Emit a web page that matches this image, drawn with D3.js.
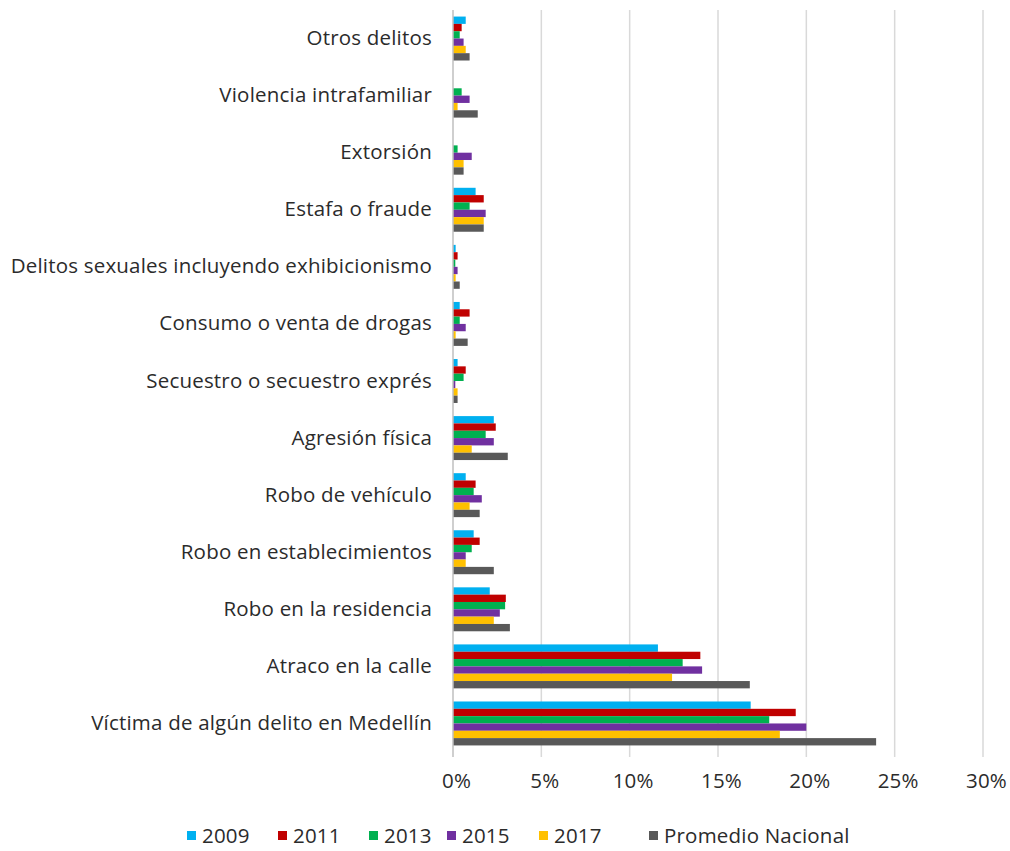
<!DOCTYPE html>
<html>
<head>
<meta charset="utf-8">
<script src="https://cdn.jsdelivr.net/npm/d3@7"></script>
<style>
  body { margin: 0; background: #fff; }
  text { font-family: "Open Sans", sans-serif; fill: #2b2b2b; letter-spacing: 0.2px; }
</style>
</head>
<body>
<svg id="canvas"></svg>
<script>
// categories, top to bottom as drawn
let categories = [
  "Otros delitos",
  "Violencia intrafamiliar",
  "Extorsión",
  "Estafa o fraude",
  "Delitos sexuales incluyendo exhibicionismo",
  "Consumo o venta de drogas",
  "Secuestro o secuestro exprés",
  "Agresión física",
  "Robo de vehículo",
  "Robo en establecimientos",
  "Robo en la residencia",
  "Atraco en la calle",
  "Víctima de algún delito en Medellín"
]

let seriesNames = ["2009", "2011", "2013", "2015", "2017", "Promedio Nacional"]
let seriesColors = ["#00b0f0", "#c00000", "#00b050", "#7030a0", "#ffc000", "#595959"]

// percent values, same order as categories
let v2009 = [0.72, 0, 0, 1.28, 0.15, 0.38, 0.26, 2.31, 0.72, 1.17, 2.08, 11.6, 16.85]
let v2011 = [0.49, 0, 0, 1.74, 0.26, 0.94, 0.72, 2.42, 1.28, 1.51, 2.99, 14.0, 19.4]
let v2013 = [0.38, 0.49, 0.26, 0.94, 0.13, 0.38, 0.6, 1.85, 1.17, 1.06, 2.95, 13.0, 17.9]
let v2015 = [0.6, 0.94, 1.06, 1.85, 0.26, 0.72, 0.13, 2.31, 1.63, 0.72, 2.65, 14.1, 20.0]
let v2017 = [0.72, 0.26, 0.6, 1.74, 0.15, 0.15, 0.26, 1.06, 0.94, 0.72, 2.31, 12.4, 18.5]
let vNacional = [0.94, 1.4, 0.6, 1.74, 0.38, 0.83, 0.26, 3.1, 1.51, 2.31, 3.22, 16.8, 23.95]

let seriesValues = [v2009, v2011, v2013, v2015, v2017, vNacional]
let xTicks = [0, 5, 10, 15, 20, 25, 30]

let width = 1010
let height = 851
let plotLeft = 453, plotRight = 983, plotTop = 10, plotBottom = 752
let fontSize = 20.5

let svg = d3.select('#canvas').attr('width', width).attr('height', height)

let xScale = d3.scaleLinear().domain([0, 30]).range([plotLeft, plotRight])
let yScale = d3.scaleBand().domain(categories).range([plotTop, plotBottom])
                .paddingInner(0.23).paddingOuter(0.115)
let inner = d3.scaleBand().domain(seriesNames).range([0, yScale.bandwidth()])

// gridlines
svg.append('g').selectAll('line')
  .data(xTicks.slice(1))
  .join('line')
  .attr('x1', d => xScale(d)).attr('x2', d => xScale(d))
  .attr('y1', plotTop).attr('y2', plotBottom + 5)
  .attr('stroke', '#d9d9d9').attr('stroke-width', 1.5)

// bars
let rows = []
categories.forEach((c, i) => {
  seriesNames.forEach((s, j) => {
    rows.push({cat: c, series: s, value: seriesValues[j][i], color: seriesColors[j]})
  })
})

svg.append('g').selectAll('rect')
  .data(rows.filter(d => d.value > 0))
  .join('rect')
  .attr('x', xScale(0))
  .attr('y', d => yScale(d.cat) + inner(d.series))
  .attr('width', d => xScale(d.value) - xScale(0))
  .attr('height', inner.bandwidth())
  .attr('fill', d => d.color)

// value axis line at 0
svg.append('line')
  .attr('x1', xScale(0)).attr('x2', xScale(0))
  .attr('y1', plotTop).attr('y2', plotBottom + 5)
  .attr('stroke', '#bfbfbf').attr('stroke-width', 1.5)

// x axis labels
let xAxis = d3.axisBottom(xScale).tickValues(xTicks).tickFormat(d => d + '%').tickSize(0).tickPadding(0)
let gx = svg.append('g').attr('transform', 'translate(3,' + (plotBottom + 21) + ')').call(xAxis)
gx.select('.domain').remove()
gx.selectAll('text').attr('font-size', fontSize).attr('font-family', '"Open Sans", sans-serif').attr('fill', '#2b2b2b')

// category labels
let yAxis = d3.axisLeft(yScale).tickSize(0).tickPadding(0)
let gy = svg.append('g').attr('transform', 'translate(432,0)').call(yAxis)
gy.select('.domain').remove()
gy.selectAll('text').attr('font-size', fontSize).attr('font-family', '"Open Sans", sans-serif').attr('fill', '#2b2b2b')

// legend
let legendX = [187, 278, 369, 447, 539, 649]
let legend = svg.append('g').attr('transform', 'translate(0,836)')
let items = legend.selectAll('g').data(seriesNames).join('g')
  .attr('transform', (d, i) => 'translate(' + legendX[i] + ',0)')
items.append('rect').attr('x', 0).attr('y', -5).attr('width', 9).attr('height', 9)
  .attr('fill', (d, i) => seriesColors[i])
items.append('text').attr('x', 15).attr('dy', '0.35em').attr('font-size', fontSize).text(d => d)
</script>
</body>
</html>
